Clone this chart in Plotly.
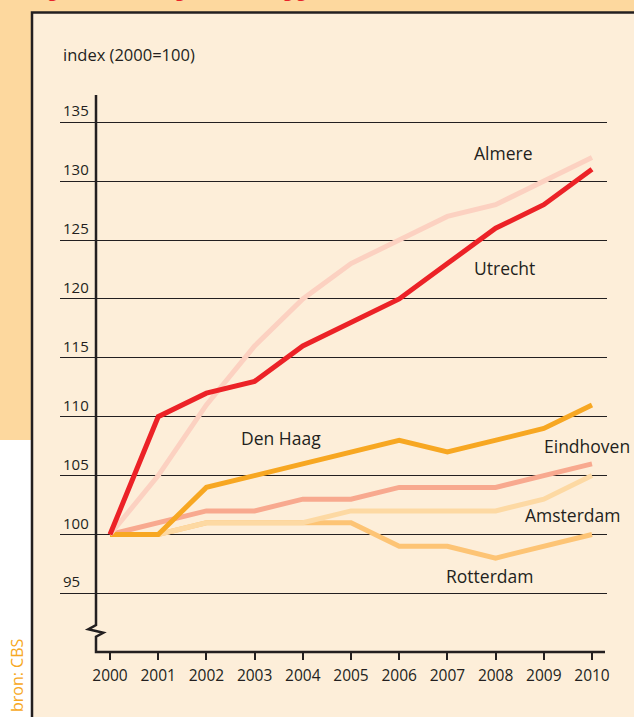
import plotly.graph_objects as go

years = list(range(2000, 2011))
utrecht = [100, 110, 112, 113, 116, 118, 120, 123, 126, 128, 131]
almere = [100, 105, 111, 116, 120, 123, 125, 127, 128, 130, 132]
den_haag = [100, 100, 104, 105, 106, 107, 108, 107, 108, 109, 111]
eindhoven = [100, 101, 102, 102, 103, 103, 104, 104, 104, 105, 106]
amsterdam = [100, 100, 101, 101, 101, 102, 102, 102, 102, 103, 105]
rotterdam = [100, 100, 101, 101, 101, 101, 99, 99, 98, 99, 100]
y_ticks = [95, 100, 105, 110, 115, 120, 125, 130, 135]

W, H = 634, 717
L, R, T, B = 60, 27, 95, 65
PW, PH = W - L - R, H - T - B
X_RANGE = [1998.9627, 2010.3112]
Y_RANGE = [90.025, 137.309]

INK = "#231F20"
PANEL = "#FDEED9"
ORANGE_BG = "#FDD89E"
FONT = "Open Sans"


def fx(px):
    return (px - L) / PW


def fy(py):
    return (H - B - py) / PH


def xdata(px):
    return X_RANGE[0] + (px - L) / PW * (X_RANGE[1] - X_RANGE[0])


def ypaper(v):
    return (v - Y_RANGE[0]) / (Y_RANGE[1] - Y_RANGE[0])


series = [
    ("Rotterdam", rotterdam, "#FDC475"),
    ("Amsterdam", amsterdam, "#FDD9A3"),
    ("Eindhoven", eindhoven, "#F8A98F"),
    ("Den Haag", den_haag, "#F7A722"),
    ("Almere", almere, "#FCD1C1"),
    ("Utrecht", utrecht, "#EC2227"),
]

fig = go.Figure()
for name, vals, col in series:
    fig.add_trace(go.Scatter(x=years, y=vals, mode="lines", name=name,
                             line=dict(color=col, width=5), showlegend=False,
                             hoverinfo="skip"))

shapes = []
# outer orange frame and white strip
shapes.append(dict(type="rect", xref="paper", yref="paper", x0=fx(0), x1=fx(31), y0=fy(440), y1=fy(0),
                   fillcolor=ORANGE_BG, line=dict(width=0), layer="below"))
shapes.append(dict(type="rect", xref="paper", yref="paper", x0=fx(0), x1=fx(W), y0=fy(12), y1=fy(0),
                   fillcolor=ORANGE_BG, line=dict(width=0), layer="below"))
shapes.append(dict(type="rect", xref="paper", yref="paper", x0=fx(0), x1=fx(31), y0=fy(H), y1=fy(440),
                   fillcolor="white", line=dict(width=0), layer="below"))
# panel border
shapes.append(dict(type="path", xref="paper", yref="paper",
                   path=f"M {fx(32)},{fy(H + 2)} L {fx(32)},{fy(12.5)} L {fx(W + 2)},{fy(12.5)}",
                   line=dict(color=INK, width=2.5)))
# y axis with break and x axis line
ax_x = xdata(96)
path = (f"M {ax_x},{ypaper(Y_RANGE[1])} L {ax_x},{ypaper(92.32)} "
        f"L {xdata(88.3)},{ypaper(91.95)} L {xdata(103.3)},{ypaper(91.66)} "
        f"L {ax_x},{ypaper(91.32)} L {ax_x},0 L {xdata(605)},0")
shapes.append(dict(type="path", xref="x", yref="paper", path=path,
                   line=dict(color=INK, width=2.5)))

annotations = []
label_pos = {
    "Almere": (2008.17, 132.39),
    "Utrecht": (2008.19, 122.62),
    "Den Haag": (2003.55, 108.19),
    "Eindhoven": (2009.90, 107.51),
    "Amsterdam": (2009.59, 101.66),
    "Rotterdam": (2007.88, 96.48),
}
for name, (lx, ly) in label_pos.items():
    annotations.append(dict(x=lx, y=ly, xref="x", yref="y", text=name, showarrow=False,
                            font=dict(family=FONT, size=17.5, color=INK)))
for v in y_ticks:
    annotations.append(dict(x=fx(61), y=v, xref="paper", yref="y", text=str(v), showarrow=False,
                            xanchor="left", yanchor="middle", yshift=12,
                            font=dict(family=FONT, size=15, color=INK)))
annotations.append(dict(x=fx(61), y=fy(55), xref="paper", yref="paper", text="index (2000=100)",
                        showarrow=False, xanchor="left", yanchor="middle",
                        font=dict(family=FONT, size=16.5, color=INK)))
annotations.append(dict(x=fx(17), y=fy(675), xref="paper", yref="paper", text="bron: CBS",
                        showarrow=False, textangle=-90, xanchor="center", yanchor="middle",
                        font=dict(family=FONT, size=16, color="#F7A823")))
annotations.append(dict(x=fx(33), y=fy(4), xref="paper", yref="paper",
                        text="Figuur 1  Bevolkingsontwikkeling grote steden (index)",
                        showarrow=False, xanchor="left", yanchor="bottom",
                        font=dict(family=FONT, size=17, color="#E8232A")))

fig.update_layout(
    width=W, height=H,
    margin=dict(l=L, r=R, t=T, b=B, pad=0),
    paper_bgcolor=PANEL, plot_bgcolor="rgba(0,0,0,0)",
    shapes=shapes, annotations=annotations,
    xaxis=dict(range=X_RANGE, tickvals=years, ticks="outside", ticklen=7, tickwidth=1.5,
               tickcolor=INK, showline=False, showgrid=False, zeroline=False,
               ticklabelstandoff=2,
               tickfont=dict(family=FONT, size=15.5, color=INK)),
    yaxis=dict(range=Y_RANGE, tickvals=y_ticks, showticklabels=False, showgrid=True,
               gridcolor=INK, gridwidth=1.3, zeroline=False, showline=False, ticks=""),
    font=dict(family=FONT),
)

fig.write_html("out.html", config={"displayModeBar": False},
               post_script="document.body.style.margin='0';document.body.style.overflow='hidden';")
